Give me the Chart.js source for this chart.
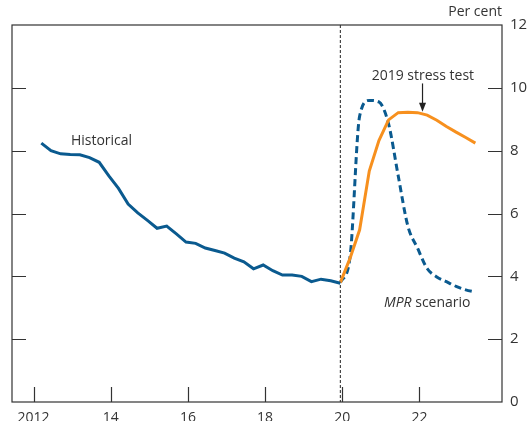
<!DOCTYPE html>
<html>
<head>
<meta charset="utf-8">
<script src="https://cdn.jsdelivr.net/npm/chart.js@4"></script>
<style>
  html, body { margin: 0; padding: 0; background: #fff; }
  #chart { display: block; }
</style>
</head>
<body>
<canvas id="chart" width="529" height="421"></canvas>
<script>
// Historical rate, quarterly from 2012
const histStart = 2012.2;
const histRate = [8.24, 8.0, 7.9, 7.88, 7.87, 7.78, 7.63, 7.2, 6.8, 6.3, 6.02, 5.78,
                  5.53, 5.6, 5.35, 5.09, 5.05, 4.9, 4.82, 4.74, 4.58, 4.46, 4.24, 4.36,
                  4.18, 4.04, 4.04, 4.0, 3.83, 3.91, 3.86, 3.78];

// projections, quarterly from the last historical point
const projStart = 2019.95;
const stressTest = [3.8, 4.57, 5.48, 7.35, 8.32, 8.98, 9.21, 9.22, 9.21, 9.13,
                    8.97, 8.77, 8.59, 8.42, 8.24];
const mprScenario = [3.8, 4.6, 9.1, 9.6, 9.55, 8.85, 7.2, 5.6, 4.9, 4.25,
                     3.98, 3.83, 3.68, 3.57, 3.5];

const xTicks = [2012, 2014, 2016, 2018, 2020, 2022];
const xTickLabels = ["2012", "14", "16", "18", "20", "22"];
const yTicks = [0, 2, 4, 6, 8, 10, 12];

const blue = "#0a5a8f";
const orange = "#f7901e";
const ink = "#333333";
const FONT = "'Open Sans', 'Noto Sans', sans-serif";

function toPoints(start, values) {
    return values.map((v, i) => ({ x: start + i * 0.25, y: v }));
}

const chartDecor = {
    id: "chartDecor",
    beforeDatasetsDraw(chart) {
        const { ctx, chartArea: a, scales: { x } } = chart;
        // break between history and projection
        const px = x.getPixelForValue(projStart);
        ctx.save();
        ctx.strokeStyle = "#222";
        ctx.lineWidth = 1;
        ctx.setLineDash([3, 2]);
        ctx.beginPath();
        ctx.moveTo(px, a.top);
        ctx.lineTo(px, a.bottom);
        ctx.stroke();
        ctx.restore();
    },
    afterDraw(chart) {
        const { ctx, chartArea: a, scales: { x, y } } = chart;
        ctx.save();
        ctx.strokeStyle = ink;
        ctx.lineWidth = 1.2;
        ctx.strokeRect(a.left, a.top, a.right - a.left, a.bottom - a.top);

        // inward tick marks
        ctx.beginPath();
        xTicks.forEach(t => {
            const px = Math.round(x.getPixelForValue(t)) + 0.5;
            ctx.moveTo(px, a.bottom);
            ctx.lineTo(px, a.bottom - 15);
        });
        yTicks.slice(1, -1).forEach(t => {
            const py = Math.round(y.getPixelForValue(t)) + 0.5;
            ctx.moveTo(a.left, py);
            ctx.lineTo(a.left + 14, py);
            ctx.moveTo(a.right, py);
            ctx.lineTo(a.right - 14, py);
        });
        ctx.stroke();

        // labels
        ctx.fillStyle = ink;
        ctx.textBaseline = "middle";
        ctx.font = "14px " + FONT;
        ctx.textAlign = "right";
        ctx.fillText("Per cent", a.right, 12);

        ctx.textAlign = "center";
        ctx.fillText("Historical", x.getPixelForValue(2013.76), y.getPixelForValue(8.32));
        ctx.fillText("2019 stress test", x.getPixelForValue(2022.09), y.getPixelForValue(10.39));

        // arrow to stress test line
        const ax = x.getPixelForValue(2022.08);
        const ay0 = y.getPixelForValue(10.14);
        const ay1 = y.getPixelForValue(9.24);
        ctx.strokeStyle = "#222";
        ctx.lineWidth = 1.2;
        ctx.beginPath();
        ctx.moveTo(ax, ay0);
        ctx.lineTo(ax, ay1 - 8);
        ctx.stroke();
        ctx.fillStyle = "#222";
        ctx.beginPath();
        ctx.moveTo(ax - 3.5, ay1 - 9);
        ctx.lineTo(ax + 3.5, ay1 - 9);
        ctx.lineTo(ax, ay1);
        ctx.closePath();
        ctx.fill();

        // MPR scenario, MPR in italics
        ctx.fillStyle = ink;
        ctx.textAlign = "left";
        let tx = x.getPixelForValue(2021.08);
        const ty = y.getPixelForValue(3.14);
        ctx.font = "italic 14px " + FONT;
        ctx.fillText("MPR", tx, ty);
        tx += ctx.measureText("MPR ").width;
        ctx.font = "14px " + FONT;
        ctx.fillText("scenario", tx, ty);
        ctx.restore();
    }
};

new Chart(document.getElementById("chart"), {
    type: "line",
    data: {
        datasets: [
            {
                label: "Historical",
                data: toPoints(histStart, histRate),
                borderColor: blue,
                borderWidth: 3,
                pointRadius: 0,
                tension: 0
            },
            {
                label: "2019 stress test",
                data: toPoints(projStart, stressTest),
                borderColor: orange,
                borderWidth: 3,
                pointRadius: 0,
                tension: 0
            },
            {
                label: "MPR scenario",
                data: toPoints(projStart, mprScenario),
                borderColor: blue,
                borderWidth: 3,
                borderDash: [7, 4],
                pointRadius: 0,
                cubicInterpolationMode: "monotone"
            }
        ]
    },
    options: {
        responsive: false,
        animation: false,
        devicePixelRatio: 1,
        layout: { padding: { left: 12, top: 25, right: 0, bottom: 0 } },
        plugins: {
            legend: { display: false },
            tooltip: { enabled: false }
        },
        scales: {
            x: {
                type: "linear",
                min: 2011.44,
                max: 2024.14,
                grid: { display: false, drawTicks: false },
                border: { display: false },
                afterBuildTicks: axis => { axis.ticks = xTicks.map(v => ({ value: v })); },
                afterFit: axis => { axis.height = 19; },
                ticks: {
                    autoSkip: false,
                    maxRotation: 0,
                    padding: 8,
                    color: ink,
                    font: { family: FONT, size: 14 },
                    callback: v => xTickLabels[xTicks.indexOf(v)]
                }
            },
            y: {
                position: "right",
                min: 0,
                max: 12,
                grid: { display: false, drawTicks: false },
                border: { display: false },
                afterBuildTicks: axis => { axis.ticks = yTicks.map(v => ({ value: v })); },
                afterFit: axis => { axis.width = 27; },
                ticks: {
                    padding: 8,
                    color: ink,
                    font: { family: FONT, size: 15 }
                }
            }
        }
    },
    plugins: [chartDecor]
});
</script>
</body>
</html>
